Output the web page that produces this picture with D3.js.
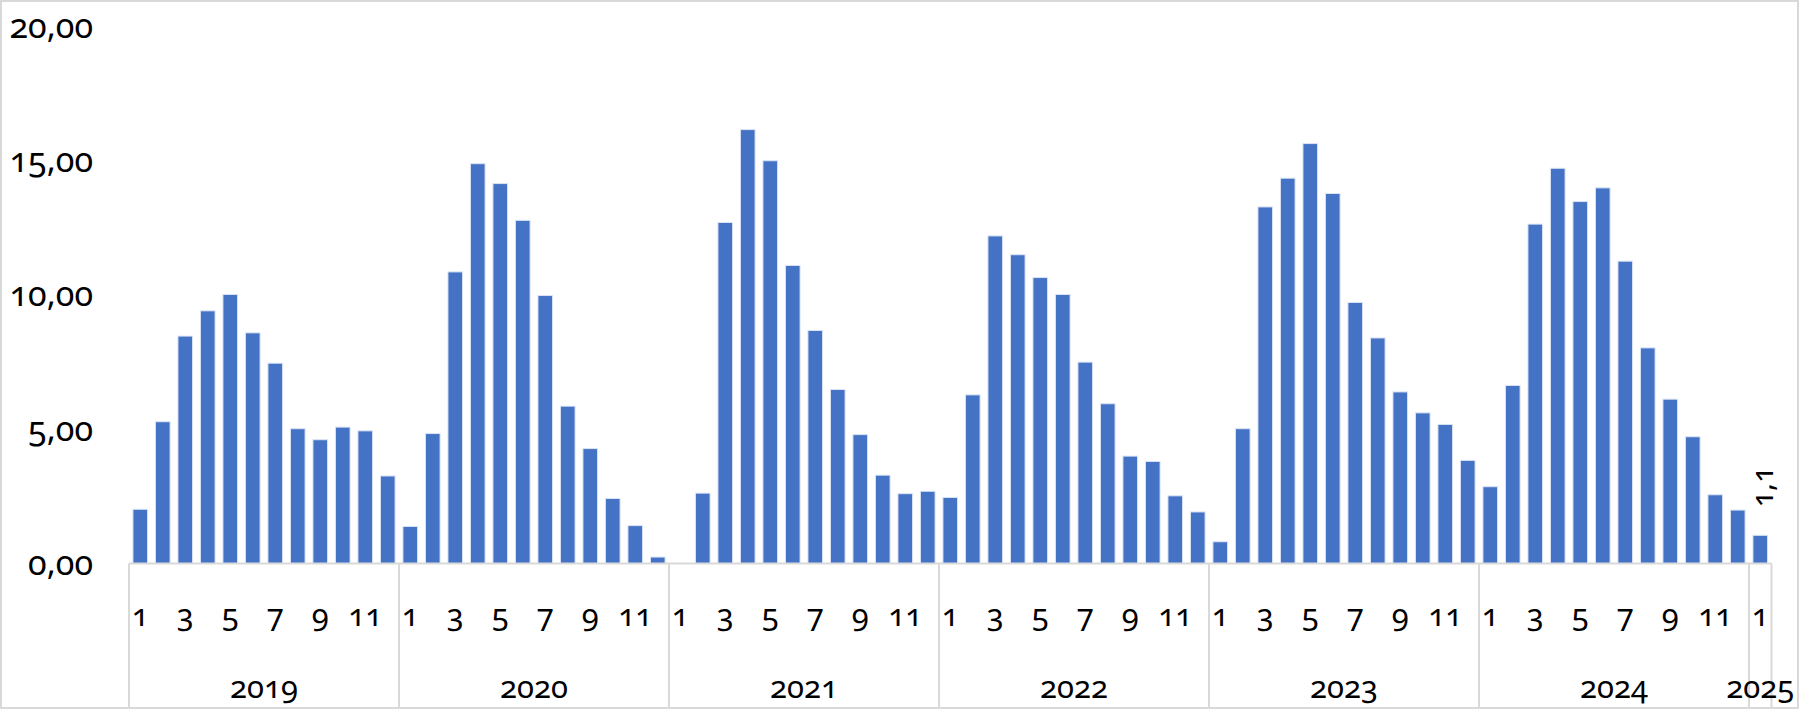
<!DOCTYPE html>
<html>
<head>
<meta charset="utf-8">
<script src="https://cdn.jsdelivr.net/npm/d3@7"></script>
<style>
  body { margin: 0; background: #fff; }
  svg text { font-family: "Noto Sans", "Open Sans", sans-serif; font-variant-numeric: oldstyle-nums; fill: #000; }
</style>
</head>
<body>
<svg id="chart" width="1800" height="710"></svg>
<script>
// data
const years = ["2019", "2020", "2021", "2022", "2023", "2024", "2025"];
const monthsInYear = [12, 12, 12, 12, 12, 12, 1];
const values = [
  2.02, 5.28, 8.47, 9.41, 10.02, 8.59, 7.46, 5.02, 4.61, 5.08, 4.94, 3.26,   // 2019
  1.38, 4.84, 10.86, 14.89, 14.15, 12.78, 9.98, 5.86, 4.28, 2.42, 1.41, 0.24, // 2020
  0, 2.62, 12.70, 16.16, 15.00, 11.10, 8.68, 6.48, 4.80, 3.29, 2.60, 2.69,   // 2021
  2.46, 6.28, 12.20, 11.50, 10.65, 10.02, 7.50, 5.95, 4.00, 3.80, 2.52, 1.92, // 2022
  0.81, 5.02, 13.28, 14.35, 15.64, 13.78, 9.72, 8.40, 6.39, 5.61, 5.18, 3.84, // 2023
  2.86, 6.63, 12.64, 14.72, 13.48, 13.99, 11.26, 8.03, 6.12, 4.72, 2.56, 1.99, // 2024
  1.05                                                                        // 2025
];
const yTicks = [0, 5, 10, 15, 20];
const lastLabel = "1,1";

// build category rows
let data = [];
years.forEach((yr, yi) => {
  for (let m = 1; m <= monthsInYear[yi]; m++) {
    data.push({ year: yr, month: m, key: yr + "-" + m, value: values[data.length] });
  }
});

const svg = d3.select("#chart");
const W = 1800, H = 710;
const plotLeft = 129, plotRight = 1771.5, plotTop = 26.5, plotBottom = 563.5;
const gridColor = "#d9d9d9";

// outer frame
svg.append("rect")
  .attr("x", 1).attr("y", 1).attr("width", W - 3).attr("height", H - 3)
  .attr("fill", "none").attr("stroke", gridColor).attr("stroke-width", 2);

const x = d3.scaleBand()
  .domain(data.map(d => d.key))
  .range([plotLeft, plotRight])
  .paddingInner(0.35)
  .paddingOuter(0.175);

const y = d3.scaleLinear().domain([0, 20]).range([plotBottom, plotTop]);

// y axis labels
const fmt = v => d3.format(".2f")(v).replace(".", ",");
const yAxis = svg.append("g")
  .attr("transform", `translate(${plotLeft},0)`)
  .call(d3.axisLeft(y).tickValues(yTicks).tickSize(0).tickPadding(36).tickFormat(fmt));
yAxis.select(".domain").remove();
yAxis.attr("font-family", null).attr("font-size", null);
yAxis.selectAll("text").attr("font-size", 34);

// bars
svg.append("g").selectAll("rect")
  .data(data)
  .join("rect")
  .attr("x", d => x(d.key))
  .attr("y", d => y(d.value))
  .attr("width", x.bandwidth())
  .attr("height", d => y(0) - y(d.value))
  .attr("fill", "#4472C4")
  .attr("stroke", "#dbe4f5")
  .attr("stroke-width", 1);

// multi level category axis
const step = x.step();
svg.append("line")
  .attr("x1", plotLeft).attr("x2", plotRight)
  .attr("y1", plotBottom).attr("y2", plotBottom)
  .attr("stroke", gridColor).attr("stroke-width", 2);

let start = 0;
const yearBoxes = years.map((yr, i) => {
  const b = { year: yr, x0: plotLeft + start * step, x1: plotLeft + (start + monthsInYear[i]) * step };
  start += monthsInYear[i];
  return b;
});
const bounds = [plotLeft].concat(yearBoxes.map(b => b.x1));
svg.append("g").selectAll("line")
  .data(bounds)
  .join("line")
  .attr("x1", d => d).attr("x2", d => d)
  .attr("y1", plotBottom).attr("y2", H - 2)
  .attr("stroke", gridColor).attr("stroke-width", 2);

// month labels (every second one)
svg.append("g").selectAll("text")
  .data(data.filter((d, i) => i % 2 === 0))
  .join("text")
  .attr("x", d => x(d.key) + x.bandwidth() / 2)
  .attr("y", 615)
  .attr("dy", "0.35em")
  .attr("text-anchor", "middle")
  .attr("font-size", 31)
  .text(d => d.month);

// year labels
svg.append("g").selectAll("text")
  .data(yearBoxes)
  .join("text")
  .attr("x", d => (d.x0 + d.x1) / 2)
  .attr("y", 687)
  .attr("dy", "0.35em")
  .attr("text-anchor", "middle")
  .attr("font-size", 31)
  .text(d => d.year);

// data label on last bar
const last = data[data.length - 1];
svg.append("text")
  .attr("transform", `translate(${x(last.key) + x.bandwidth() / 2 + 2},${y(last.value) - 28}) rotate(-90)`)
  .attr("dy", "0.35em")
  .attr("text-anchor", "start")
  .attr("font-size", 30)
  .text(lastLabel);
</script>
</body>
</html>
